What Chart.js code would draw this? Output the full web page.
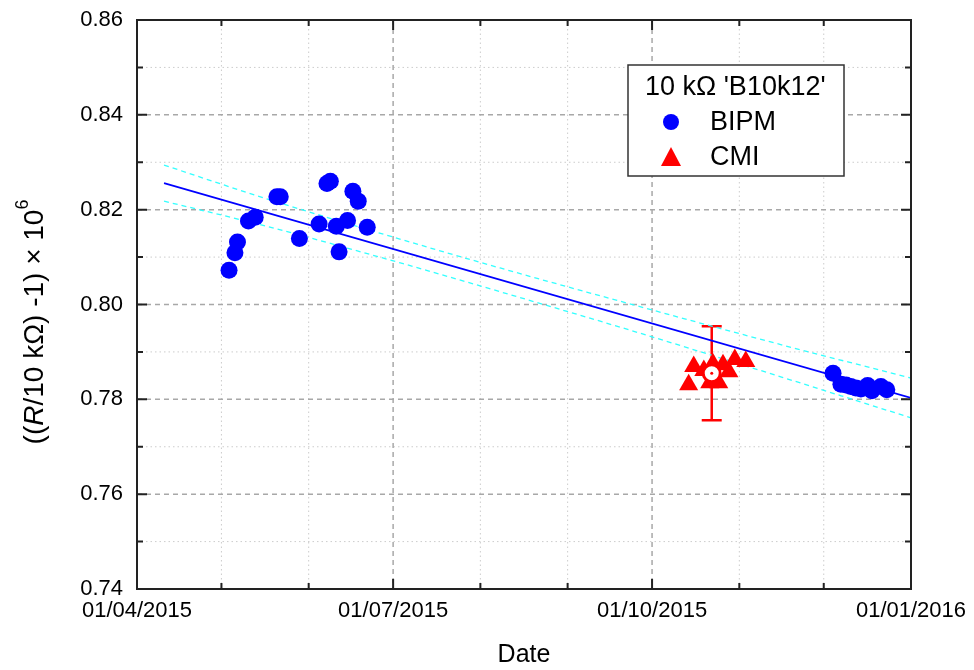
<!DOCTYPE html>
<html lang="en">
<head>
    <meta charset="UTF-8">
    <title>10 kOhm B10k12</title>
    <script src="https://cdn.jsdelivr.net/npm/chart.js"></script>
    <style>
        html, body { margin: 0; padding: 0; background: #fff; }
        #wrap { width: 974px; height: 670px; }
    </style>
</head>
<body>
<div id="wrap"><canvas id="chart"></canvas></div>
<script>
    // x values are days counted from 01/04/2015
    const xMajorDays = [0, 91, 183, 275];
    const xMajorLabels = ['01/04/2015', '01/07/2015', '01/10/2015', '01/01/2016'];
    const xMinorDays = [30, 61, 122, 153, 214, 244];
    const yMajorTicks = [0.74, 0.76, 0.78, 0.80, 0.82, 0.84, 0.86];
    const yMinorTicks = [0.75, 0.77, 0.79, 0.81, 0.83, 0.85];

    const bipmDays = [32.7, 34.8, 35.7, 39.6, 42.0, 49.7, 50.9, 57.7, 64.7, 67.5, 68.7, 70.8, 71.8, 74.8, 76.7, 78.6, 81.8,
        247.3, 250.1, 251.9, 253.6, 255.4, 257.2, 259.6, 261.1, 264.3, 266.4];
    const bipmValues = [0.8072, 0.8109, 0.8132, 0.8176, 0.8184, 0.8227, 0.8227, 0.8139, 0.8170, 0.8255, 0.8260, 0.8165, 0.8111, 0.8177, 0.8239, 0.8218, 0.8163,
        0.7855, 0.7832, 0.7830, 0.7827, 0.7824, 0.7822, 0.7829, 0.7818, 0.7827, 0.7820];

    const cmiDays = [196.0, 197.8, 201.4, 203.5, 204.6, 206.7, 208.2, 210.3, 212.4, 216.3];
    const cmiValues = [0.7831, 0.7869, 0.7861, 0.7835, 0.7875, 0.7835, 0.7873, 0.7858, 0.7884, 0.7880];

    const cmiMeanDay = 204.2;
    const cmiMeanValue = 0.7855;
    const cmiMeanError = 0.0099;

    const fitDays = [9.6, 275];
    const fitValues = [0.8256, 0.7803];
    const bandDays = [9.6, 46, 94, 129, 179, 229, 275];
    const bandUpper = [0.8294, 0.8223, 0.8137, 0.8077, 0.7995, 0.7915, 0.7845];
    const bandLower = [0.8218, 0.8165, 0.8087, 0.8027, 0.7939, 0.7847, 0.7761];

    const FONT = "'Liberation Sans', Arial, sans-serif";
    const pts = (xs, ys) => xs.map((v, i) => ({x: v, y: ys[i]}));

    // grid, error bar, frame, inward ticks
    const framePlugin = {
        id: 'framePlugin',
        beforeDatasetsDraw(chart) {
            const {ctx, chartArea: a, scales: {x, y}} = chart;
            ctx.save();
            const vline = px => { ctx.beginPath(); ctx.moveTo(px, a.top); ctx.lineTo(px, a.bottom); ctx.stroke(); };
            const hline = py => { ctx.beginPath(); ctx.moveTo(a.left, py); ctx.lineTo(a.right, py); ctx.stroke(); };
            ctx.lineWidth = 1;
            ctx.strokeStyle = '#cccccc';
            ctx.setLineDash([1.5, 3]);
            xMinorDays.forEach(d => vline(x.getPixelForValue(d)));
            yMinorTicks.forEach(v => hline(y.getPixelForValue(v)));
            ctx.lineWidth = 1.5;
            ctx.strokeStyle = '#a8a8a8';
            ctx.setLineDash([5, 4]);
            xMajorDays.slice(1, -1).forEach(d => vline(x.getPixelForValue(d)));
            yMajorTicks.slice(1, -1).forEach(v => hline(y.getPixelForValue(v)));

            // CMI error bar
            ctx.setLineDash([]);
            ctx.strokeStyle = '#ff0000';
            ctx.lineWidth = 2.5;
            const ex = x.getPixelForValue(cmiMeanDay);
            const eTop = y.getPixelForValue(cmiMeanValue + cmiMeanError);
            const eBot = y.getPixelForValue(cmiMeanValue - cmiMeanError);
            ctx.beginPath();
            ctx.moveTo(ex, eTop); ctx.lineTo(ex, eBot);
            ctx.moveTo(ex - 10, eTop); ctx.lineTo(ex + 10, eTop);
            ctx.moveTo(ex - 10, eBot); ctx.lineTo(ex + 10, eBot);
            ctx.stroke();
            ctx.restore();
        },
        afterDatasetsDraw(chart) {
            const {ctx, chartArea: a, scales: {x, y}} = chart;
            ctx.save();
            ctx.strokeStyle = '#222';
            ctx.lineWidth = 2;
            ctx.strokeRect(a.left, a.top, a.right - a.left, a.bottom - a.top);
            const xt = (d, len) => {
                const px = x.getPixelForValue(d);
                ctx.beginPath();
                ctx.moveTo(px, a.bottom); ctx.lineTo(px, a.bottom - len);
                ctx.moveTo(px, a.top); ctx.lineTo(px, a.top + len);
                ctx.stroke();
            };
            const yt = (v, len) => {
                const py = y.getPixelForValue(v);
                ctx.beginPath();
                ctx.moveTo(a.left, py); ctx.lineTo(a.left + len, py);
                ctx.moveTo(a.right, py); ctx.lineTo(a.right - len, py);
                ctx.stroke();
            };
            xMajorDays.forEach(d => xt(d, 10));
            xMinorDays.forEach(d => xt(d, 6));
            yMajorTicks.forEach(v => yt(v, 10));
            yMinorTicks.forEach(v => yt(v, 6));
            ctx.restore();
        },
        afterDraw(chart) {
            const {ctx, chartArea: a} = chart;
            ctx.save();
            ctx.fillStyle = '#000';

            // x title
            ctx.font = '25px ' + FONT;
            ctx.textAlign = 'center';
            ctx.textBaseline = 'middle';
            ctx.fillText('Date', (a.left + a.right) / 2, 655);

            // y title with italic R and superscript 6
            ctx.translate(35, 322);
            ctx.rotate(-Math.PI / 2);
            const parts = [
                {t: '((', f: '28px ' + FONT, dy: 0},
                {t: 'R', f: 'italic 28px ' + FONT, dy: 0},
                {t: '/10 k\u03A9) -1) \u00D7 10', f: '28px ' + FONT, dy: 0},
                {t: '6', f: '18px ' + FONT, dy: -12}
            ];
            let total = 0;
            parts.forEach(p => { ctx.font = p.f; p.w = ctx.measureText(p.t).width; total += p.w; });
            let cx = -total / 2;
            ctx.textAlign = 'left';
            parts.forEach(p => { ctx.font = p.f; ctx.fillText(p.t, cx, p.dy); cx += p.w; });
            ctx.setTransform(1, 0, 0, 1, 0, 0);

            // legend box
            ctx.fillStyle = '#fff';
            ctx.fillRect(628, 65, 216, 111);
            ctx.strokeStyle = '#333';
            ctx.lineWidth = 1.5;
            ctx.strokeRect(628, 65, 216, 111);
            ctx.fillStyle = '#000';
            ctx.textBaseline = 'middle';
            ctx.textAlign = 'left';
            ctx.font = '27px ' + FONT;
            ctx.fillText("10 k\u03A9 'B10k12'", 645, 88);
            ctx.fillText('BIPM', 710, 123);
            ctx.fillText('CMI', 710, 158);
            ctx.fillStyle = '#0000ff';
            ctx.beginPath();
            ctx.arc(671, 122, 8, 0, Math.PI * 2);
            ctx.fill();
            ctx.fillStyle = '#ff0000';
            ctx.beginPath();
            ctx.moveTo(671, 147); ctx.lineTo(681, 166); ctx.lineTo(661, 166);
            ctx.closePath();
            ctx.fill();
            ctx.restore();
        }
    };

    new Chart(document.getElementById('chart'), {
        type: 'scatter',
        data: {
            datasets: [
                {
                    label: 'CMI mean dot', data: pts([cmiMeanDay], [cmiMeanValue]), order: 0,
                    pointRadius: 1.5, backgroundColor: '#ff0000', borderColor: '#ff0000', borderWidth: 0
                },
                {
                    label: 'CMI mean', data: pts([cmiMeanDay], [cmiMeanValue]), order: 1,
                    pointRadius: 8.5, backgroundColor: '#ffffff', borderColor: '#ff0000', borderWidth: 3
                },
                {
                    label: 'CMI', data: pts(cmiDays, cmiValues), order: 2,
                    pointStyle: 'triangle', pointRadius: 11, backgroundColor: '#ff0000', borderColor: '#ff0000', borderWidth: 0
                },
                {
                    label: 'BIPM', data: pts(bipmDays, bipmValues), order: 3,
                    pointRadius: 8.5, backgroundColor: '#0000ff', borderColor: '#0000ff', borderWidth: 0
                },
                {
                    label: 'fit', data: pts(fitDays, fitValues), order: 4, showLine: true,
                    pointRadius: 0, borderColor: '#0000ff', borderWidth: 1.6
                },
                {
                    label: 'upper', data: pts(bandDays, bandUpper), order: 5, showLine: true,
                    pointRadius: 0, borderColor: '#33ffff', borderWidth: 1.3, borderDash: [5, 4], cubicInterpolationMode: 'monotone'
                },
                {
                    label: 'lower', data: pts(bandDays, bandLower), order: 5, showLine: true,
                    pointRadius: 0, borderColor: '#33ffff', borderWidth: 1.3, borderDash: [5, 4], cubicInterpolationMode: 'monotone'
                }
            ]
        },
        options: {
            responsive: true,
            maintainAspectRatio: false,
            animation: false,
            events: [],
            layout: {padding: {top: 20, right: 63, left: 0, bottom: 0}},
            plugins: {legend: {display: false}, tooltip: {enabled: false}},
            scales: {
                x: {
                    type: 'linear', min: 0, max: 275,
                    afterBuildTicks: s => { s.ticks = xMajorDays.map(v => ({value: v})); },
                    afterFit: s => { s.height = 81; s.paddingLeft = 0; s.paddingRight = 0; },
                    grid: {display: false, drawTicks: false},
                    border: {display: false},
                    ticks: {
                        autoSkip: false, maxRotation: 0, padding: 9, color: '#000',
                        font: {family: FONT, size: 22},
                        callback: v => xMajorLabels[xMajorDays.indexOf(v)]
                    }
                },
                y: {
                    min: 0.74, max: 0.86,
                    afterBuildTicks: s => { s.ticks = yMajorTicks.map(v => ({value: v})); },
                    afterFit: s => { s.width = 137; s.paddingTop = 0; s.paddingBottom = 0; },
                    grid: {display: false, drawTicks: false},
                    border: {display: false},
                    ticks: {
                        padding: 14, color: '#000',
                        font: {family: FONT, size: 22},
                        callback: v => v.toFixed(2)
                    }
                }
            }
        },
        plugins: [framePlugin]
    });
</script>
</body>
</html>
